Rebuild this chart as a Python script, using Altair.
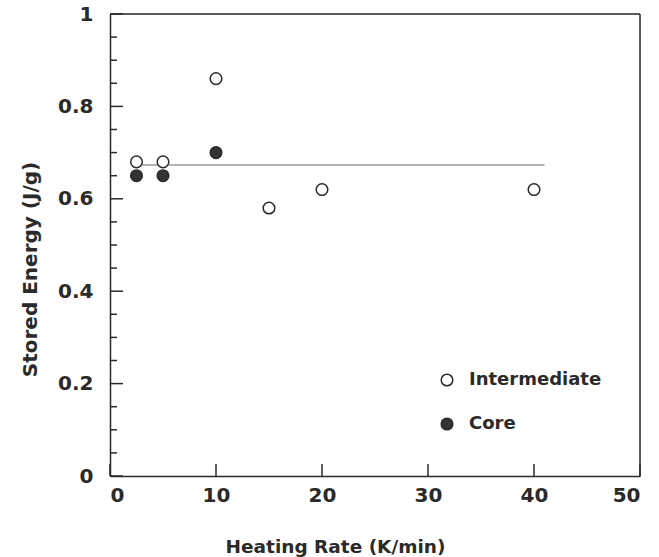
import altair as alt
import pandas as pd

# data
inter_x = [2.5, 5, 10, 15, 20, 40]
inter_y = [0.68, 0.68, 0.86, 0.58, 0.62, 0.62]
core_x = [2.5, 5, 10]
core_y = [0.65, 0.65, 0.70]
mean_line = {"x": 2.5, "x2": 41, "y": 0.673}
x_ticks = [0, 10, 20, 30, 40, 50]
y_major = [0, 0.2, 0.4, 0.6, 0.8, 1.0]
y_minor = [0.05, 0.1, 0.15, 0.25, 0.3, 0.35, 0.45, 0.5, 0.55, 0.65, 0.7, 0.75, 0.85, 0.9, 0.95]

pts = pd.DataFrame(
    [{"x": a, "y": b, "series": "Intermediate"} for a, b in zip(inter_x, inter_y)]
    + [{"x": a, "y": b, "series": "Core"} for a, b in zip(core_x, core_y)]
)

FONT = "DejaVu Sans"
INK = "#2a2a2a"
W, H = 530, 462

xs = alt.Scale(domain=[0, 50], nice=False)
ys = alt.Scale(domain=[0, 1], nice=False)

points = alt.Chart(pts).mark_point(shape="circle", size=135, strokeWidth=1.5, stroke=INK, opacity=1).encode(
    x=alt.X("x:Q", scale=xs, axis=alt.Axis(
        values=x_ticks, ticks=False, grid=False, domainColor=INK, domainWidth=1.5,
        labelFont=FONT, labelFontSize=20, labelFontWeight="bold", labelColor=INK, labelPadding=9,
        title="Heating Rate (K/min)", titleFont=FONT, titleFontSize=18.5, titleFontWeight="bold",
        titleColor=INK, titleX=225, titleY=70, titleAlign="center", titleBaseline="middle")),
    y=alt.Y("y:Q", scale=ys, axis=alt.Axis(
        values=y_major, format="~g", ticks=False, grid=False, domainColor=INK, domainWidth=1.5,
        labelFont=FONT, labelFontSize=20, labelFontWeight="bold", labelColor=INK, labelPadding=17,
        title="Stored Energy (J/g)", titleFont=FONT, titleFontSize=20, titleFontWeight="bold",
        titleColor=INK, titleX=-80, titleY=255, titleAngle=270, titleAlign="center",
        titleBaseline="middle")),
    fill=alt.Fill("series:N", scale=alt.Scale(domain=["Intermediate", "Core"], range=["white", "#333"]),
                  legend=alt.Legend(title=None, orient="none", legendX=328, legendY=357,
                                    symbolType="circle", symbolSize=135, symbolStrokeColor=INK,
                                    symbolStrokeWidth=1.5, labelFont=FONT, labelFontSize=18,
                                    labelFontWeight="bold", labelColor=INK, rowPadding=26,
                                    labelOffset=13)),
)

line = alt.Chart(pd.DataFrame([mean_line])).mark_rule(color="#9a9a9a", strokeWidth=1.5).encode(
    x=alt.X("x:Q", scale=xs), x2="x2:Q", y=alt.Y("y:Q", scale=ys)
)

xt = alt.Chart(pd.DataFrame({"v": x_ticks})).mark_rule(color=INK, strokeWidth=1.5).encode(
    x=alt.X("v:Q", scale=xs), y=alt.value(H), y2=alt.value(H - 12)
)
ytM = alt.Chart(pd.DataFrame({"v": y_major})).mark_rule(color=INK, strokeWidth=1.5).encode(
    y=alt.Y("v:Q", scale=ys), x=alt.value(0), x2=alt.value(13)
)
ytm = alt.Chart(pd.DataFrame({"v": y_minor})).mark_rule(color=INK, strokeWidth=1.5).encode(
    y=alt.Y("v:Q", scale=ys), x=alt.value(0), x2=alt.value(7)
)
frame_top = alt.Chart(pd.DataFrame({"v": [1.0]})).mark_rule(color=INK, strokeWidth=1.5).encode(
    y=alt.Y("v:Q", scale=ys), x=alt.value(0), x2=alt.value(W)
)
frame_right = alt.Chart(pd.DataFrame({"v": [50]})).mark_rule(color=INK, strokeWidth=1.5).encode(
    x=alt.X("v:Q", scale=xs), y=alt.value(0), y2=alt.value(H)
)

chart = alt.layer(line, xt, ytM, ytm, frame_top, frame_right, points).properties(
    width=W, height=H,
    padding={"left": 110, "top": 14, "right": 17, "bottom": 81},
    autosize=alt.AutoSizeParams(type="none"),
).configure_view(stroke=None).configure(background="white")

chart.save("out.html", embed_options={"renderer": "svg", "actions": False})
